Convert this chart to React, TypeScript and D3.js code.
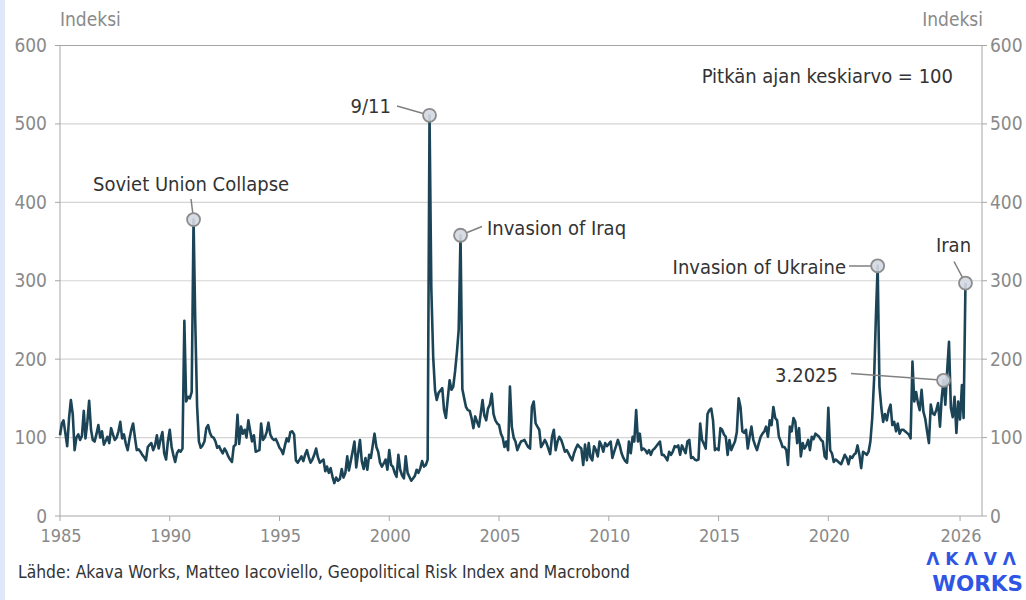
import React from "react";
import * as d3 from "d3";

// Monthly Geopolitical Risk index, starting January 1985
const START_YEAR = 1985;
const gpr1985_1989 = [
  103, 118, 122, 105, 89, 125, 148, 130, 84, 100, 104, 97,
  102, 134, 99, 120, 147, 110, 97, 95, 105, 116, 100, 108,
  91, 96, 101, 93, 112, 104, 97, 100, 108, 120, 99, 104,
  92, 84, 98, 110, 118, 100, 84, 85, 82, 78, 75, 71,
  88, 91, 93, 84, 90, 103, 86, 98, 107, 80, 72, 95,
];
const gpr1990_1994 = [
  110, 88, 78, 69, 80, 84, 82, 86, 249, 146, 152, 150,
  158, 378, 250, 140, 95, 87, 90, 95, 112, 116, 106, 101,
  100, 95, 87, 89, 84, 80, 86, 82, 76, 72, 69, 89,
  91, 129, 92, 114, 105, 110, 100, 122, 108, 95, 103, 82,
  83, 84, 118, 97, 100, 107, 119, 104, 99, 97, 98, 93,
];
const gpr1995_1999 = [
  87, 84, 79, 90, 99, 95, 107, 108, 104, 71, 68, 72,
  76, 70, 78, 84, 75, 68, 72, 78, 86, 75, 68, 70,
  72, 57, 63, 55, 61, 50, 42, 49, 45, 47, 60, 49,
  55, 76, 58, 70, 82, 95, 62, 80, 97, 70, 60, 74,
  59, 78, 74, 90, 105, 88, 82, 68, 63, 67, 72, 59,
];
const gpr2000_2004 = [
  84, 65, 63, 55, 50, 78, 59, 52, 48, 76, 55, 50,
  45, 48, 51, 59, 55, 61, 70, 63, 65, 72, 511, 290,
  203, 160, 148, 157, 160, 163, 135, 125, 150, 173, 161, 165,
  185, 210, 237, 358, 162, 150, 139, 135, 134, 125, 112, 127,
  120, 114, 130, 148, 128, 122, 137, 142, 156, 130, 122, 118,
];
const gpr2005_2009 = [
  116, 105, 100, 88, 95, 84, 165, 114, 100, 95, 84, 90,
  95, 96, 97, 92, 88, 86, 139, 146, 118, 114, 110, 88,
  92, 97, 93, 86, 79, 101, 110, 84, 95, 101, 97, 90,
  82, 84, 80, 75, 71, 80, 86, 91, 88, 86, 65, 91,
  71, 93, 75, 71, 89, 84, 76, 95, 90, 82, 93, 89,
];
const gpr2010_2014 = [
  92, 95, 74, 82, 89, 97, 90, 80, 74, 70, 68, 95,
  80, 101, 95, 135, 95, 105, 84, 86, 84, 80, 84, 78,
  84, 86, 89, 92, 95, 78, 78, 75, 71, 82, 78, 82,
  89, 88, 90, 78, 90, 85, 80, 95, 97, 74, 75, 72,
  71, 72, 118, 97, 92, 86, 130, 135, 137, 122, 84, 86,
];
const gpr2015_2019 = [
  84, 112, 110, 104, 101, 78, 97, 84, 90, 95, 107, 150,
  139, 108, 106, 110, 86, 101, 114, 97, 90, 84, 93, 101,
  105, 108, 114, 101, 122, 116, 139, 125, 122, 101, 95, 88,
  88, 84, 65, 114, 108, 125, 120, 93, 112, 76, 93, 86,
  90, 97, 84, 101, 98, 105, 103, 101, 97, 95, 76, 73,
];
const gpr2020_2026 = [
  138, 84, 80, 69, 72, 70, 68, 66, 72, 78, 74, 66,
  76, 74, 78, 80, 90, 78, 61, 82, 80, 78, 82, 95,
  125, 175, 250, 319, 165, 138, 120, 130, 122, 135, 142, 116,
  120, 108, 118, 105, 110, 110, 108, 106, 104, 99, 197, 146,
  158, 144, 135, 161, 133, 124, 108, 93, 142, 131, 129, 135,
  144, 114, 150, 173, 142, 186, 222, 138, 126, 152, 106, 146,
  123, 167, 125, 297,
];

const values = [
  ...gpr1985_1989, ...gpr1990_1994, ...gpr1995_1999, ...gpr2000_2004,
  ...gpr2005_2009, ...gpr2010_2014, ...gpr2015_2019, ...gpr2020_2026,
];
const dates = values.map((_, i) => new Date(START_YEAR, i, 1));

const yTicks = [0, 100, 200, 300, 400, 500, 600];
const xTickYears = [1985, 1990, 1995, 2000, 2005, 2010, 2015, 2020, 2026];

const annotationLabels = ["Soviet Union Collapse", "9/11", "Invasion of Iraq", "Invasion of Ukraine", "Iran", "3.2025"];
const annotationIndex = [73, 202, 219, 447, 495, 483];

const FONT = "'DejaVu Sans Condensed', 'DejaVu Sans', sans-serif";

export default function App() {
  const W = 1026, H = 600;
  const x = d3.scaleTime().domain([new Date(1985, 0, 1), new Date(2027, 0, 1)]).range([60, 982]);
  const y = d3.scaleLinear().domain([0, 600]).range([516, 45.5]);
  const line = d3.line<number>().x((_, i) => x(dates[i])).y((d) => y(d));

  const ann = annotationIndex.map((idx) => ({ cx: x(dates[idx]), cy: y(values[idx]) }));

  const annLayout: { tx: number; ty: number; anchor: string; lx: number; ly: number }[] = [
    { tx: 93, ty: 191, anchor: "start", lx: 191, ly: 199 },
    { tx: 391, ty: 113, anchor: "end", lx: 397, ly: 106 },
    { tx: 487, ty: 235, anchor: "start", lx: 482, ly: 226.5 },
    { tx: 846, ty: 274, anchor: "end", lx: 849, ly: 266 },
    { tx: 953.5, ty: 252, anchor: "middle", lx: 954, ly: 261.5 },
    { tx: 838, ty: 382, anchor: "end", lx: 851, ly: 373.5 },
  ];

  const r = 6.5;
  const axisColor = "#a6a6a6";
  const textGrey = "#8a8a8a";

  return (
    <svg width={W} height={H} style={{ position: "absolute", left: 0, top: 0, background: "#fff" }}>
      <rect x={0} y={0} width={W} height={H} fill="#fff" />
      <rect x={0} y={0} width={5} height={H} fill="#dfe8f8" />

      {yTicks.filter((t) => t > 0 && t < 600).map((t) => (
        <line key={t} x1={60} x2={982} y1={y(t)} y2={y(t)} stroke="#d4d4d4" strokeWidth={1.2} />
      ))}
      <line x1={60} x2={982} y1={y(600)} y2={y(600)} stroke={axisColor} strokeWidth={1} />

      <line x1={60} x2={60} y1={y(600)} y2={y(0)} stroke={axisColor} strokeWidth={1} />
      <line x1={982} x2={982} y1={y(600)} y2={y(0)} stroke={axisColor} strokeWidth={1} />
      <line x1={60} x2={982} y1={y(0)} y2={y(0)} stroke={axisColor} strokeWidth={1} />

      {yTicks.map((t) => (
        <g key={"yt" + t}>
          <line x1={55} x2={60} y1={y(t)} y2={y(t)} stroke={axisColor} />
          <line x1={982} x2={987} y1={y(t)} y2={y(t)} stroke={axisColor} />
          <text x={47} y={y(t) + 6.5} textAnchor="end" fontFamily={FONT} fontSize={19} fill={textGrey}>{t}</text>
          <text x={990} y={y(t) + 6.5} textAnchor="start" fontFamily={FONT} fontSize={19} fill={textGrey}>{t}</text>
        </g>
      ))}

      {xTickYears.map((yr) => {
        const xx = x(new Date(yr, 0, 1));
        return (
          <g key={"xt" + yr}>
            <line x1={xx} x2={xx} y1={y(0)} y2={y(0) + 5} stroke={axisColor} />
            <text x={xx + 1} y={542} textAnchor="middle" fontFamily={FONT} fontSize={18} fill={textGrey}>{yr}</text>
          </g>
        );
      })}

      <text x={60} y={26} fontFamily={FONT} fontSize={19} fill={textGrey}>Indeksi</text>
      <text x={983} y={26} textAnchor="end" fontFamily={FONT} fontSize={19} fill={textGrey}>Indeksi</text>

      <path d={line(values) || ""} fill="none" stroke="#1c4457" strokeWidth={2.6} strokeLinejoin="round" />

      {ann.map((a, i) => {
        const L = annLayout[i];
        const dx = a.cx - L.lx, dy = a.cy - L.ly;
        const len = Math.sqrt(dx * dx + dy * dy);
        const ex = a.cx - (dx / len) * r, ey = a.cy - (dy / len) * r;
        return (
          <g key={"a" + i}>
            <line x1={L.lx} y1={L.ly} x2={ex} y2={ey} stroke="#808080" strokeWidth={1.5} />
            <circle cx={a.cx} cy={a.cy} r={r} fill="#d3d8e2" fillOpacity={0.9} stroke="#8c8c8c" strokeWidth={1.8} />
            <text x={L.tx} y={L.ty} textAnchor={L.anchor as any} fontFamily={FONT} fontSize={20} fill="#333">{annotationLabels[i]}</text>
          </g>
        );
      })}

      <text x={953} y={83} textAnchor="end" fontFamily={FONT} fontSize={20} fill="#333">Pitkän ajan keskiarvo = 100</text>

      <text x={18} y={578} fontFamily={FONT} fontSize={17.3} fill="#333">Lähde: Akava Works, Matteo Iacoviello, Geopolitical Risk Index and Macrobond</text>

      <text x={1022} y={565} textAnchor="end" fontFamily="'DejaVu Sans', sans-serif" fontWeight="bold" fontSize={17} letterSpacing={6} fill="#2f55e4">ΛKΛVΛ</text>
      <text x={1023} y={591} textAnchor="end" fontFamily="'DejaVu Sans', sans-serif" fontWeight="bold" fontSize={21.5} fill="#2f55e4">WORKS</text>
    </svg>
  );
}
